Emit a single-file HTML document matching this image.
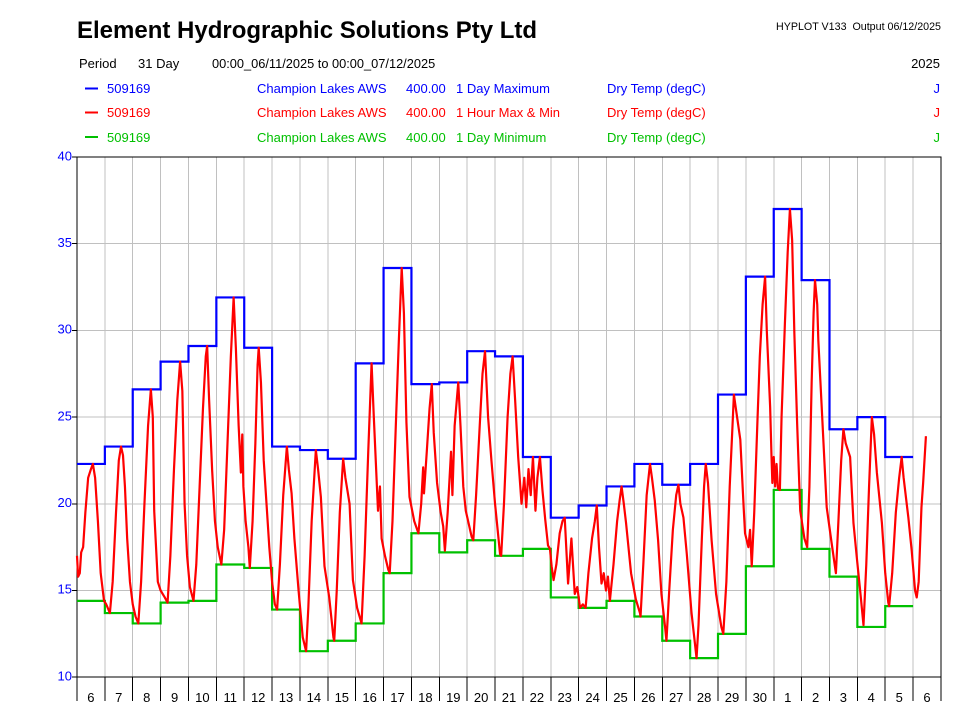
<!DOCTYPE html>
<html>
<head>
<meta charset="utf-8">
<style>
html,body{margin:0;padding:0;background:#fff;}
svg{display:block;}
text{font-family:"Liberation Sans",Arial,sans-serif;}
</style>
</head>
<body>
<svg width="968" height="726" viewBox="0 0 968 726" xmlns="http://www.w3.org/2000/svg">
<rect width="968" height="726" fill="#fff"/>

<!-- Header -->
<text x="77" y="38" font-size="24" font-weight="bold" fill="#000">Element Hydrographic Solutions Pty Ltd</text>
<text x="941" y="30" font-size="10.7" fill="#000" text-anchor="end" xml:space="preserve">HYPLOT V133  Output 06/12/2025</text>

<g font-size="13" fill="#000">
<text x="79" y="68">Period</text>
<text x="138" y="68">31 Day</text>
<text x="212" y="68" font-size="12.8">00:00_06/11/2025 to 00:00_07/12/2025</text>
<text x="940" y="68" text-anchor="end">2025</text>
</g>

<!-- Legend -->
<g font-size="13">
<line x1="85" y1="88.5" x2="98" y2="88.5" stroke="#0000ff" stroke-width="2"/>
<g fill="#0000ff">
<text x="107" y="93">509169</text>
<text x="257" y="93">Champion Lakes AWS</text>
<text x="406" y="93">400.00</text>
<text x="456" y="93">1 Day Maximum</text>
<text x="607" y="93">Dry Temp (degC)</text>
<text x="940" y="93" text-anchor="end">J</text>
</g>
<line x1="85" y1="112.5" x2="98" y2="112.5" stroke="#ff0000" stroke-width="2"/>
<g fill="#ff0000">
<text x="107" y="117">509169</text>
<text x="257" y="117">Champion Lakes AWS</text>
<text x="406" y="117">400.00</text>
<text x="456" y="117">1 Hour Max &amp; Min</text>
<text x="607" y="117">Dry Temp (degC)</text>
<text x="940" y="117" text-anchor="end">J</text>
</g>
<line x1="85" y1="137" x2="98" y2="137" stroke="#00c000" stroke-width="2"/>
<g fill="#00c000">
<text x="107" y="142">509169</text>
<text x="257" y="142">Champion Lakes AWS</text>
<text x="406" y="142">400.00</text>
<text x="456" y="142">1 Day Minimum</text>
<text x="607" y="142">Dry Temp (degC)</text>
<text x="940" y="142" text-anchor="end">J</text>
</g>
</g>

<!-- Chart in data coordinates: x = day index, y = temperature -->
<g transform="matrix(27.87 0 0 -17.34 77 850.6)" fill="none">
  <!-- grid -->
  <path shape-rendering="crispEdges" vector-effect="non-scaling-stroke" stroke="#c0c0c0" stroke-width="1"
    d="M1 10V40M2 10V40M3 10V40M4 10V40M5 10V40M6 10V40M7 10V40M8 10V40M9 10V40M10 10V40M11 10V40M12 10V40M13 10V40M14 10V40M15 10V40M16 10V40M17 10V40M18 10V40M19 10V40M20 10V40M21 10V40M22 10V40M23 10V40M24 10V40M25 10V40M26 10V40M27 10V40M28 10V40M29 10V40M30 10V40M0 15H31M0 20H31M0 25H31M0 30H31M0 35H31"/>
  <!-- frame and ticks -->
  <path shape-rendering="crispEdges" vector-effect="non-scaling-stroke" stroke="#000" stroke-width="1"
    d="M0 8.63V40H31V8.63M0 10H31M1 10V8.63M2 10V8.63M3 10V8.63M4 10V8.63M5 10V8.63M6 10V8.63M7 10V8.63M8 10V8.63M9 10V8.63M10 10V8.63M11 10V8.63M12 10V8.63M13 10V8.63M14 10V8.63M15 10V8.63M16 10V8.63M17 10V8.63M18 10V8.63M19 10V8.63M20 10V8.63M21 10V8.63M22 10V8.63M23 10V8.63M24 10V8.63M25 10V8.63M26 10V8.63M27 10V8.63M28 10V8.63M29 10V8.63M30 10V8.63M-0.18 10H0M-0.18 15H0M-0.18 20H0M-0.18 25H0M-0.18 30H0M-0.18 35H0M-0.18 40H0"/>
  <!-- daily minimum (green) -->
  <path vector-effect="non-scaling-stroke" stroke="#00c000" stroke-width="2.2" stroke-linejoin="miter"
    d="M0 14.4H1V13.7H2V13.1H3V14.3H4V14.4H5V16.5H6V16.3H7V13.9H8V11.5H9V12.1H10V13.1H11V16.0H12V18.3H13V17.2H14V17.9H15V17.0H16V17.4H17V14.6H18V14.0H19V14.4H20V13.5H21V12.1H22V11.1H23V12.5H24V16.4H25V20.8H26V17.4H27V15.8H28V12.9H29V14.1H30"/>
  <!-- daily maximum (blue) -->
  <path vector-effect="non-scaling-stroke" stroke="#0000ff" stroke-width="2.2" stroke-linejoin="miter"
    d="M0 22.3H1V23.3H2V26.6H3V28.2H4V29.1H5V31.9H6V29.0H7V23.3H8V23.1H9V22.6H10V28.1H11V33.6H12V26.9H13V27.0H14V28.8H15V28.5H16V22.7H17V19.2H18V19.9H19V21.0H20V22.3H21V21.1H22V22.3H23V26.3H24V33.1H25V37.0H26V32.9H27V24.3H28V25.0H29V22.7H30"/>
  <!-- hourly (red) -->
  <path vector-effect="non-scaling-stroke" stroke="#ff0000" stroke-width="2.2" stroke-linejoin="round"
    d="M0 17.0L0.04 15.8 0.1 16.0 0.15 17.2 0.22 17.5 0.3 19.5 0.4 21.5 0.5 22.0 0.57 22.3 0.65 21.5 0.75 19.0 0.85 16.0 0.97 14.4 1.05 14.2 1.18 13.7 1.28 15.5 1.4 19.5 1.5 22.5 1.58 23.3 1.65 22.8 1.72 21.0 1.8 18.0 1.9 15.5 2.0 14.2 2.1 13.5 2.2 13.1 2.3 15.5 2.42 20.0 2.55 24.5 2.65 26.6 2.72 25.0 2.77 19.6 2.82 18.0 2.9 15.5 3.0 15.0 3.15 14.6 3.25 14.3 3.35 17.0 3.48 22.0 3.6 26.0 3.7 28.2 3.78 26.5 3.86 20.0 3.95 17.0 4.05 15.2 4.18 14.4 4.28 16.5 4.4 21.0 4.52 25.5 4.62 28.5 4.67 29.1 4.74 26.0 4.85 21.9 4.95 19.0 5.05 17.5 5.18 16.5 5.28 18.5 5.4 23.5 5.52 28.5 5.62 31.9 5.7 29.0 5.8 24.5 5.88 21.8 5.93 24.0 5.97 21.0 6.05 19.0 6.15 17.5 6.2 16.3 6.3 19.0 6.4 23.5 6.48 28.0 6.52 29.0 6.6 27.0 6.7 22.5 6.8 20.0 6.9 17.5 7.0 15.5 7.1 14.2 7.18 13.9 7.28 16.5 7.4 20.5 7.53 23.3 7.6 22.0 7.7 20.6 7.8 18.0 7.95 15.0 8.1 12.3 8.22 11.5 8.3 14.0 8.42 19.0 8.57 23.1 8.65 22.0 8.75 20.4 8.88 16.4 9.05 14.6 9.2 12.3 9.23 12.1 9.32 15.0 9.43 19.5 9.55 22.6 9.63 21.5 9.78 20.0 9.9 15.6 10.05 14.0 10.21 13.1 10.32 17.0 10.45 23.0 10.57 28.1 10.65 25.0 10.8 19.6 10.87 21.0 10.93 18.0 11.05 17.0 11.17 16.2 11.22 16.0 11.32 19.0 11.45 25.0 11.55 29.5 11.65 33.6 11.73 31.0 11.82 24.7 11.93 20.4 12.1 19.0 12.25 18.3 12.35 20.0 12.42 22.1 12.45 20.6 12.55 23.0 12.65 25.5 12.73 26.9 12.8 24.1 12.92 21.2 13.05 19.5 13.14 18.7 13.2 17.3 13.3 19.5 13.42 23.0 13.47 20.5 13.55 24.5 13.68 27.0 13.76 24.5 13.86 21.0 13.95 19.6 14.16 18.1 14.22 17.9 14.32 20.5 14.45 24.5 14.55 27.5 14.64 28.8 14.75 25.0 14.87 22.5 15.0 20.0 15.18 17.1 15.22 17.0 15.32 20.0 15.45 25.0 15.55 27.5 15.63 28.5 15.72 26.0 15.83 22.7 15.95 20.0 16.05 21.5 16.12 19.8 16.2 22.0 16.28 20.5 16.36 22.7 16.45 19.6 16.52 21.5 16.61 22.7 16.7 20.8 16.8 19.1 16.9 17.6 16.97 17.4 17.03 16.4 17.1 15.6 17.2 16.5 17.32 18.3 17.42 19.0 17.5 19.2 17.57 17.0 17.62 15.4 17.74 18.0 17.86 14.8 17.95 15.2 18.05 14.0 18.15 14.2 18.25 14.0 18.35 16.0 18.48 18.0 18.58 19.0 18.65 19.9 18.73 17.5 18.82 15.4 18.9 16.0 18.98 15.0 19.05 15.8 19.12 14.4 19.25 16.5 19.38 19.0 19.47 20.2 19.54 21.0 19.62 20.0 19.7 18.9 19.88 16.0 20.05 14.5 20.2 13.7 20.22 13.5 20.32 16.5 20.44 20.5 20.56 22.3 20.63 21.5 20.73 20.2 20.85 17.9 20.97 14.8 21.1 12.9 21.15 12.1 21.25 15.0 21.38 18.5 21.5 20.5 21.58 21.1 21.65 20.0 21.76 19.2 21.88 17.1 22.05 13.7 22.23 11.1 22.3 13.0 22.42 18.0 22.5 21.0 22.56 22.3 22.64 21.2 22.77 17.9 22.93 14.8 23.12 12.9 23.19 12.5 23.3 15.5 23.42 21.0 23.52 24.5 23.57 26.3 23.64 25.5 23.8 23.7 23.92 19.8 23.97 18.3 24.09 17.5 24.15 18.5 24.21 16.4 24.3 19.5 24.42 25.0 24.5 28.5 24.6 31.5 24.69 33.1 24.75 30.0 24.87 25.6 24.92 22.7 24.95 21.2 25.0 22.7 25.05 21.0 25.1 22.3 25.15 20.9 25.22 20.8 25.28 25.0 25.4 30.4 25.5 34.5 25.58 37.0 25.66 35.2 25.74 29.8 25.84 24.6 25.95 19.6 26.1 18.0 26.2 17.5 26.28 21.0 26.36 27.0 26.43 31.0 26.48 32.9 26.56 31.5 26.6 29.4 26.72 25.6 26.9 19.8 27.08 17.7 27.23 16.0 27.32 19.0 27.42 22.5 27.5 24.3 27.58 23.5 27.74 22.7 27.86 18.9 27.98 16.9 28.1 15.0 28.22 13.0 28.32 16.5 28.42 21.0 28.52 25.0 28.6 24.0 28.7 21.8 28.88 18.9 29.0 16.0 29.11 14.3 29.14 14.1 29.25 16.0 29.38 19.5 29.5 21.5 29.59 22.7 29.66 21.5 29.83 19.2 29.95 17.3 30.07 15.0 30.13 14.6 30.2 15.5 30.3 19.8 30.36 21.2 30.46 23.9"/>
</g>

<!-- Y-axis labels -->
<g font-size="13" fill="#0000ff" text-anchor="end">
<text x="72" y="160.5">40</text>
<text x="72" y="247">35</text>
<text x="72" y="333.5">30</text>
<text x="72" y="420.5">25</text>
<text x="72" y="507">20</text>
<text x="72" y="593.5">15</text>
<text x="72" y="680.5">10</text>
</g>

<!-- X-axis labels -->
<g font-size="13" fill="#000" text-anchor="middle">
<text x="90.9" y="702">6</text>
<text x="118.8" y="702">7</text>
<text x="146.7" y="702">8</text>
<text x="174.6" y="702">9</text>
<text x="202.4" y="702">10</text>
<text x="230.3" y="702">11</text>
<text x="258.2" y="702">12</text>
<text x="286.0" y="702">13</text>
<text x="313.9" y="702">14</text>
<text x="341.8" y="702">15</text>
<text x="369.6" y="702">16</text>
<text x="397.5" y="702">17</text>
<text x="425.4" y="702">18</text>
<text x="453.3" y="702">19</text>
<text x="481.1" y="702">20</text>
<text x="509.0" y="702">21</text>
<text x="536.9" y="702">22</text>
<text x="564.7" y="702">23</text>
<text x="592.6" y="702">24</text>
<text x="620.5" y="702">25</text>
<text x="648.3" y="702">26</text>
<text x="676.2" y="702">27</text>
<text x="704.1" y="702">28</text>
<text x="732.0" y="702">29</text>
<text x="759.8" y="702">30</text>
<text x="787.7" y="702">1</text>
<text x="815.6" y="702">2</text>
<text x="843.4" y="702">3</text>
<text x="871.3" y="702">4</text>
<text x="899.2" y="702">5</text>
<text x="927.0" y="702">6</text>
</g>
</svg>
</body>
</html>
